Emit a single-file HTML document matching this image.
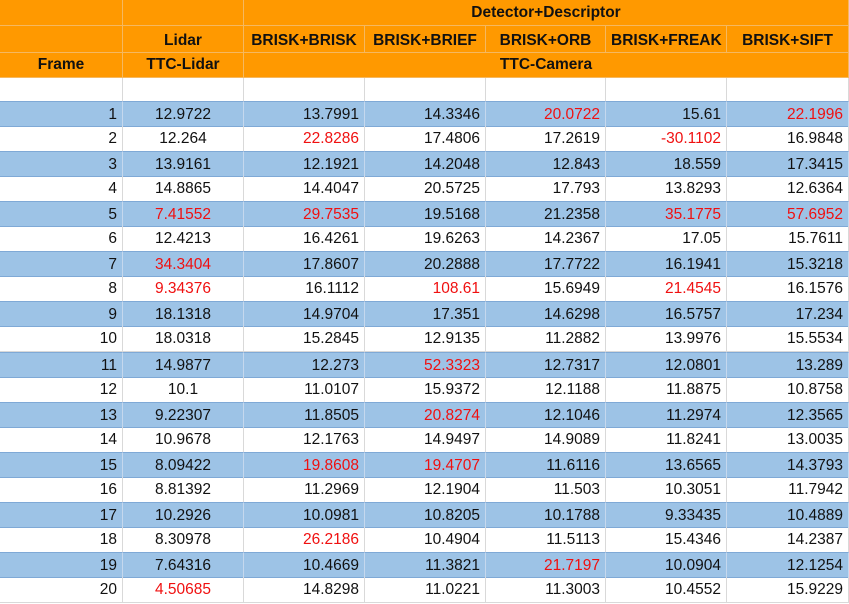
<!DOCTYPE html>
<html><head><meta charset="utf-8"><style>
body{margin:0;width:849px;height:604px;overflow:hidden;background:#fff;font-family:"Liberation Sans",sans-serif;}
.c{position:absolute;box-sizing:border-box;font-size:15.5px;line-height:24px;padding:0 5px;white-space:nowrap;color:#111;}
.h{background:#ff9900;font-weight:bold;text-align:center;border-right:1px solid #f5b860;border-bottom:1px solid #f5b860;}
.w{border-right:1px solid #d9d9d9;border-bottom:1px solid #d9d9d9;}
.b{background:#9dc3e6;border-right:1px solid #c5d8ee;border-bottom:1px solid #7fa9d6;border-top:1px solid #7fa9d6;}
.red{color:#f01010;}
</style></head><body>
<div id="t"></div>
<script>
const frames=[1,2,3,4,5,6,7,8,9,10,11,12,13,14,15,16,17,18,19,20];
const lidar=["12.9722","12.264","13.9161","14.8865","7.41552","12.4213","34.3404","9.34376","18.1318","18.0318","14.9877","10.1","9.22307","10.9678","8.09422","8.81392","10.2926","8.30978","7.64316","4.50685"];
const briskBrisk=["13.7991","22.8286","12.1921","14.4047","29.7535","16.4261","17.8607","16.1112","14.9704","15.2845","12.273","11.0107","11.8505","12.1763","19.8608","11.2969","10.0981","26.2186","10.4669","14.8298"];
const briskBrief=["14.3346","17.4806","14.2048","20.5725","19.5168","19.6263","20.2888","108.61","17.351","12.9135","52.3323","15.9372","20.8274","14.9497","19.4707","12.1904","10.8205","10.4904","11.3821","11.0221"];
const briskOrb=["20.0722","17.2619","12.843","17.793","21.2358","14.2367","17.7722","15.6949","14.6298","11.2882","12.7317","12.1188","12.1046","14.9089","11.6116","11.503","10.1788","11.5113","21.7197","11.3003"];
const briskFreak=["15.61","-30.1102","18.559","13.8293","35.1775","17.05","16.1941","21.4545","16.5757","13.9976","12.0801","11.8875","11.2974","11.8241","13.6565","10.3051","9.33435","15.4346","10.0904","10.4552"];
const briskSift=["22.1996","16.9848","17.3415","12.6364","57.6952","15.7611","15.3218","16.1576","17.234","15.5534","13.289","10.8758","12.3565","13.0035","14.3793","11.7942","10.4889","14.2387","12.1254","15.9229"];
const redCells=[[1,4],[1,6],[2,2],[2,5],[5,1],[5,2],[5,5],[5,6],[7,1],[8,1],[8,3],[8,5],[11,3],[13,3],[15,2],[15,3],[18,2],[19,4],[20,1]];
const colX=[0,123,244,365,486,606,727,849];
const t=document.getElementById('t');
function cell(x1,x2,y,h,txt,cls,align){
  const d=document.createElement('div');
  d.className='c '+cls;
  d.style.left=x1+'px';d.style.width=(x2-x1)+'px';d.style.top=y+'px';d.style.height=h+'px';
  d.style.lineHeight=(h-1)+'px';
  if(align)d.style.textAlign=align;
  d.textContent=txt;
  t.appendChild(d);return d;
}
let e;
e=cell(0,123,0,26,'','h');
e=cell(123,244,0,26,'','h');
e=cell(244,849,0,26,'Detector+Descriptor','h');
const names=['','Lidar','BRISK+BRISK','BRISK+BRIEF','BRISK+ORB','BRISK+FREAK','BRISK+SIFT'];
for(let i=0;i<7;i++){
  e=cell(colX[i],colX[i+1],26,27,names[i],'h');
  e.style.paddingTop='2px';
  
}
e=cell(0,123,53,25,'Frame','h');
e=cell(123,244,53,25,'TTC-Lidar','h');
e=cell(244,849,53,25,'TTC-Camera','h');
for(let i=0;i<7;i++){e=cell(colX[i],colX[i+1],78,24,'','w');}
const cols=[frames,lidar,briskBrisk,briskBrief,briskOrb,briskFreak,briskSift];
for(let r=0;r<frames.length;r++){
  const y=101+r*25.05;
  const cls=r%2===0?'b':'w';
  for(let c=0;c<7;c++){
    const v=String(cols[c][r]);
    e=cell(colX[c],colX[c+1],Math.round(y),26,v,cls,c===1?'center':'right');
    if(redCells.some(p=>p[0]===frames[r]&&p[1]===c))e.classList.add('red');
    
    
  }
}
</script>
</body></html>
